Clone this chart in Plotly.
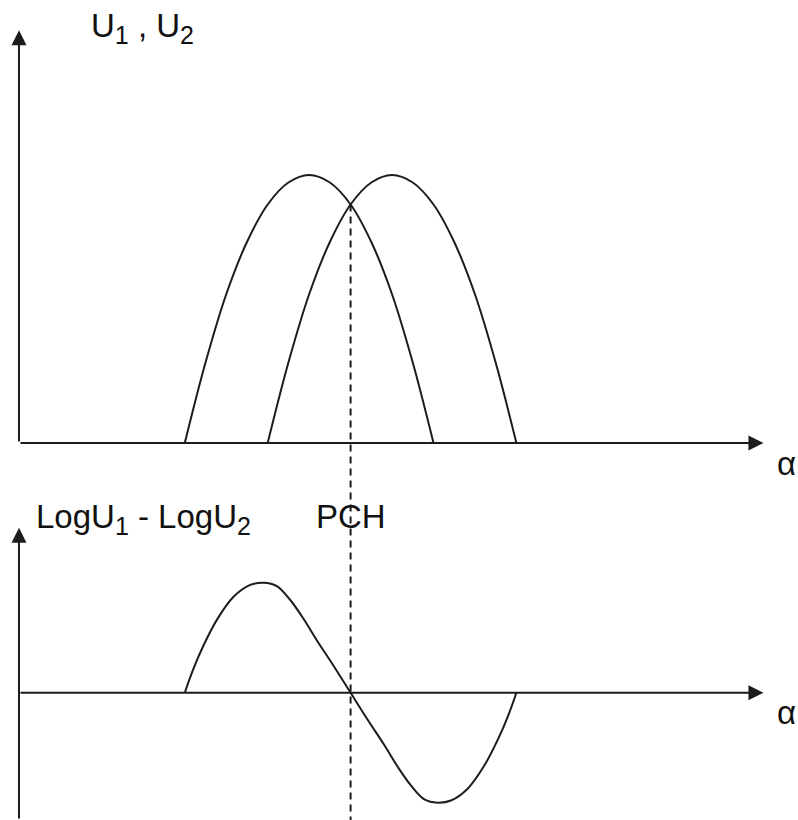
import plotly.graph_objects as go

# --- data -----------------------------------------------------------------
# angle positions (α) and normalised amplitude of the two overlapping lobes
alpha_u1 = [2.0, 2.25, 2.5, 2.75, 3.0, 3.25, 3.5, 3.75, 4.0, 4.25, 4.5, 4.75, 5.0]
alpha_u2 = [3.0, 3.25, 3.5, 3.75, 4.0, 4.25, 4.5, 4.75, 5.0, 5.25, 5.5, 5.75, 6.0]
u1_values = [0.0, 0.30, 0.555, 0.75, 0.89, 0.972, 1.0, 0.972, 0.89, 0.75, 0.555, 0.30, 0.0]
u2_values = [0.0, 0.30, 0.555, 0.75, 0.89, 0.972, 1.0, 0.972, 0.89, 0.75, 0.555, 0.30, 0.0]

# difference of the logarithms, LogU1 - LogU2
alpha_diff = [2.0, 2.1, 2.22, 2.385, 2.585, 2.79, 2.95, 3.11, 3.27, 3.43, 3.59, 3.79, 4.0,
              4.21, 4.41, 4.57, 4.73, 4.89, 5.05, 5.21, 5.415, 5.615, 5.78, 5.9, 6.0]
diff_values = [0.0, 0.21, 0.42, 0.66, 0.87, 0.98, 1.0, 0.97, 0.845, 0.675, 0.48, 0.25, 0.0,
               -0.25, -0.48, -0.675, -0.845, -0.97, -1.0, -0.98, -0.87, -0.66, -0.42, -0.21, 0.0]

# equisignal direction (crossing of the two lobes)
pch_alpha = 4.0
pch_level = 0.89

# extent of the drawn coordinate axes
alpha_axis_end = 8.98
top_axis_end = 1.54
bottom_axis_end = 1.5

# --- figure ---------------------------------------------------------------
W, H = 798, 820
x_range = [-0.229, 9.397]
y_top_range = [-1.4067, 1.653]
y_bottom_range = [-1.157, 6.297]

INK = "#1c1c1c"
FONT = dict(family="Liberation Sans, Arial, sans-serif", size=33, color="#111111")


def sub(s):
    return "<sub><span style='font-size:25px'>" + s + "</span></sub>"


fig = go.Figure()

curve = dict(color=INK, width=2, shape="spline", smoothing=1.0)
fig.add_trace(go.Scatter(x=alpha_u1, y=u1_values, mode="lines", line=curve,
                         xaxis="x", yaxis="y", hoverinfo="skip"))
fig.add_trace(go.Scatter(x=alpha_u2, y=u2_values, mode="lines", line=curve,
                         xaxis="x", yaxis="y", hoverinfo="skip"))
fig.add_trace(go.Scatter(x=alpha_diff, y=diff_values, mode="lines", line=curve,
                         xaxis="x", yaxis="y2", hoverinfo="skip"))

# dashed marker of the equisignal direction, from the crossing point down
fig.add_shape(type="line", xref="x", yref="y",
              x0=pch_alpha, x1=pch_alpha, y0=pch_level, y1=y_top_range[0],
              line=dict(color=INK, width=2, dash="7px,5px"))

def arrow(x, y, ax, ay, yref):
    return dict(x=x, y=y, ax=ax, ay=ay, xref="x", yref=yref, axref="x", ayref=yref,
                text="", showarrow=True, arrowhead=2, arrowsize=1.5,
                arrowwidth=2, arrowcolor=INK, standoff=0, startstandoff=0)

annotations = [
    # upper panel axes
    arrow(alpha_axis_end, 0, 0, 0, "y"),
    arrow(0, top_axis_end, 0, 0, "y"),
    # lower panel axes
    arrow(alpha_axis_end, 0, 0, 0, "y2"),
    arrow(0, bottom_axis_end, 0, y_bottom_range[0], "y2"),
]

def label(text, x, y, xanchor="left", xref="paper"):
    return dict(text=text, x=x, y=y, xref=xref, yref="paper", xanchor=xanchor,
                yanchor="middle", showarrow=False, font=FONT)

annotations += [
    label("U" + sub("1") + " , U" + sub("2"), 89 / W, 1 - 28 / H),
    label("α", 775 / W, 1 - 464 / H),
    label("LogU" + sub("1") + " - LogU" + sub("2"), 34 / W, 1 - 519 / H),
    label("PCH", pch_alpha, 1 - 516 / H, xanchor="center", xref="x"),
    label("α", 775 / W, 1 - 712 / H),
]

hidden = dict(visible=False, showgrid=False, zeroline=False, fixedrange=True)
fig.update_layout(
    width=W, height=H,
    margin=dict(l=0, r=0, t=0, b=0),
    paper_bgcolor="white", plot_bgcolor="white",
    showlegend=False,
    xaxis=dict(range=x_range, domain=[0, 1], **hidden),
    yaxis=dict(range=y_top_range, domain=[0, 1], **hidden),
    yaxis2=dict(range=y_bottom_range, domain=[0, 1], overlaying="y", **hidden),
    annotations=annotations,
)

fig.write_html("out.html")
